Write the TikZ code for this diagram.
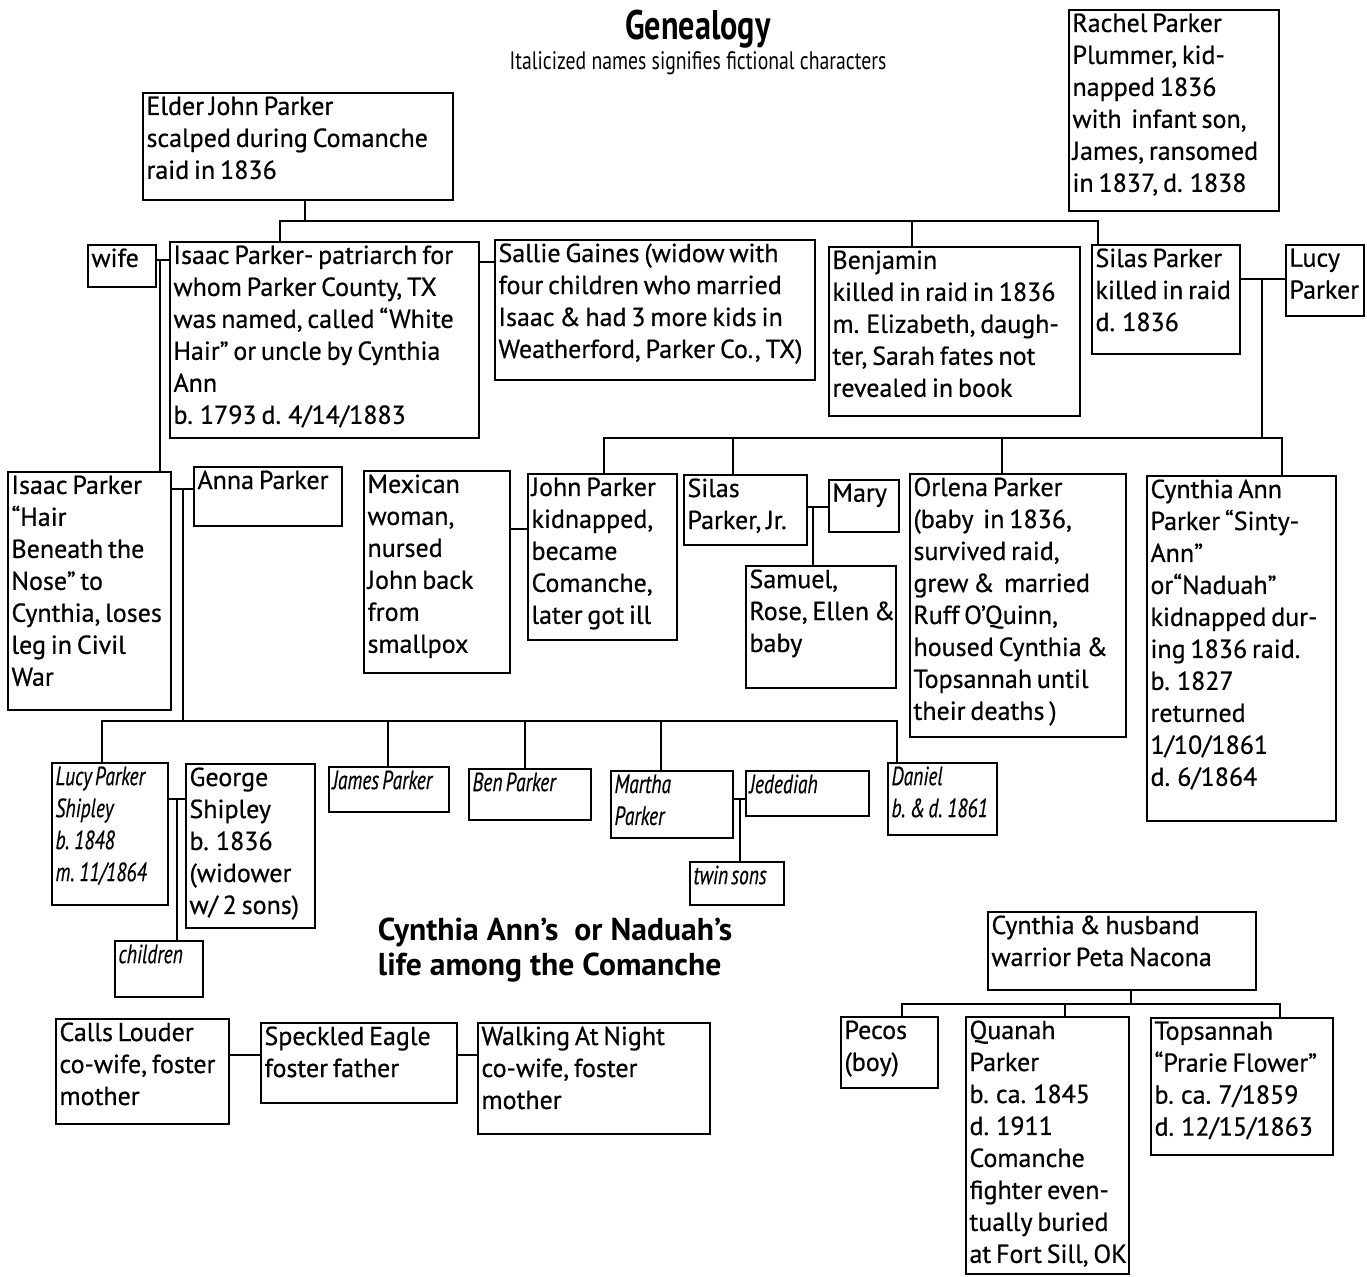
\documentclass[tikz,border=0pt]{standalone}
\usepackage{fontspec}
\setmainfont{PT Sans}
\newfontfamily\bodyfont[FakeBold=0.6, WordSpace=0.7]{PT Sans}
\newfontfamily\condfont[FakeStretch=0.74, FakeBold=0.4, WordSpace=0.6]{PT Sans}
\newfontfamily\headfont[FakeStretch=0.78]{PT Sans}
\usetikzlibrary{fit}
\tikzstyle{box}=[
    draw,
    rectangle,
    inner sep = 0pt,
    line width = 1.1pt
]
\tikzstyle{txt}=[
    anchor = north west,
    align = left,
    inner sep = 2pt,
    font = \bodyfont\fontsize{14.8}{18.2}\selectfont
]
\tikzstyle{itxt}=[
    txt,
    font = \condfont\itshape\fontsize{15}{18.2}\selectfont
]
\begin{document}
\begin{tikzpicture}[x=0.02cm, y=-0.02cm, line width=1.1pt]
        \useasboundingbox (0,0) rectangle (1367,1276);

        \node[font=\headfont\bfseries\fontsize{23.5}{26}\selectfont] (title) at (698,29) {Genealogy};
        \node[font=\headfont\fontsize{14.4}{16}\selectfont] (subtitle) at (698,63) {Italicized names signifies fictional characters};

        \node[box, fit={(143,93) (453,200)}, label={[txt]north west:{Elder John Parker\\scalped during Comanche\\raid in 1836}}] (elder) {};
        \node[box, fit={(1069,10) (1279,211)}, label={[txt]north west:{Rachel Parker\\Plummer, kid-\\napped 1836\\with\ \ infant son,\\James, ransomed\\in 1837, d. 1838}}] (rachel) {};

        \node[box, fit={(88,245) (156,287)}, label={[txt]north west:{wife}}] (wife) {};
        \node[box, fit={(170,242) (479,438)}, label={[txt]north west:{Isaac Parker- patriarch for\\whom Parker County, TX\\was named, called “White\\Hair” or uncle by Cynthia\\Ann\\b. 1793 d. 4/14/1883}}] (isaac) {};
        \node[box, fit={(495,240) (815,380)}, label={[txt]north west:{Sallie Gaines (widow with\\four children who married\\Isaac \& had 3 more kids in\\Weatherford, Parker Co., TX)}}] (sallie) {};
        \node[box, fit={(829,247) (1080,416)}, label={[txt]north west:{Benjamin\\killed in raid in 1836\\m. Elizabeth, daugh-\\ter, Sarah fates not\\revealed in book}}] (benjamin) {};
        \node[box, fit={(1092,245) (1240,354)}, label={[txt]north west:{Silas Parker\\killed in raid\\d. 1836}}] (silas) {};
        \node[box, fit={(1286,245) (1364,316)}, label={[txt]north west:{Lucy\\Parker}}] (lucy) {};

        \node[box, fit={(8,472) (171,710)}, label={[txt]north west:{Isaac Parker\\“Hair\\Beneath the\\Nose” to\\Cynthia, loses\\leg in Civil\\War}}] (isaacjr) {};
        \node[box, fit={(194,467) (342,526)}, label={[txt]north west:{Anna Parker}}] (anna) {};
        \node[box, fit={(364,471) (510,673)}, label={[txt]north west:{Mexican\\woman,\\nursed\\John back\\from\\smallpox}}] (mexican) {};
        \node[box, fit={(528,474) (677,640)}, label={[txt]north west:{John Parker\\kidnapped,\\became\\Comanche,\\later got ill}}] (john) {};
        \node[box, fit={(684,475) (807,545)}, label={[txt]north west:{Silas\\Parker, Jr.}}] (silasjr) {};
        \node[box, fit={(829,480) (899,532)}, label={[txt]north west:{Mary}}] (mary) {};
        \node[box, fit={(746,566) (896,688)}, label={[txt]north west:{Samuel,\\Rose, Ellen \&\\baby}}] (samuel) {};
        \node[box, fit={(910,474) (1126,737)}, label={[txt]north west:{Orlena Parker\\(baby\ \ in 1836,\\survived raid,\\grew \&\ \ married\\Ruff O’Quinn,\\housed Cynthia \&\\Topsannah until\\their deaths )}}] (orlena) {};
        \node[box, fit={(1147,476) (1336,821)}, label={[txt]north west:{Cynthia Ann\\Parker “Sinty-\\Ann”\\or“Naduah”\\kidnapped dur-\\ing 1836 raid.\\b. 1827\\returned\\1/10/1861\\d. 6/1864}}] (cynthia) {};

        \node[box, fit={(52,763) (168,905)}, label={[itxt]north west:{Lucy Parker\\Shipley\\b. 1848\\m. 11/1864}}] (lucys) {};
        \node[box, fit={(186,764) (315,928)}, label={[txt]north west:{George\\Shipley\\b. 1836\\(widower\\w/ 2 sons)}}] (george) {};
        \node[box, fit={(115,941) (203,997)}, label={[itxt]north west:{children}}] (children) {};
        \node[box, fit={(329,767) (449,812)}, label={[itxt]north west:{James Parker}}] (james) {};
        \node[box, fit={(469,769) (591,820)}, label={[itxt]north west:{Ben Parker}}] (ben) {};
        \node[box, fit={(611,771) (733,838)}, label={[itxt]north west:{Martha\\Parker}}] (martha) {};
        \node[box, fit={(746,771) (869,816)}, label={[itxt]north west:{Jedediah}}] (jed) {};
        \node[box, fit={(690,862) (784,905)}, label={[itxt]north west:{twin sons}}] (twins) {};
        \node[box, fit={(888,763) (997,835)}, label={[itxt]north west:{Daniel\\b. \& d. 1861}}] (daniel) {};

        \node[anchor=north west, align=left, inner sep=0pt, font=\bfseries\fontsize{18}{20}\selectfont] (heading) at (377,917) {Cynthia Ann’s\ \ or Naduah’s\\life among the Comanche};

        \node[box, fit={(988,912) (1256,990)}, label={[txt]north west:{Cynthia \& husband\\warrior Peta Nacona}}] (husband) {};
        \node[box, fit={(841,1017) (938,1088)}, label={[txt]north west:{Pecos\\(boy)}}] (pecos) {};
        \node[box, fit={(966,1017) (1129,1274)}, label={[txt]north west:{Quanah\\Parker\\b. ca. 1845\\d. 1911\\Comanche\\fighter even-\\tually buried\\at Fort Sill, OK}}] (quanah) {};
        \node[box, fit={(1151,1018) (1333,1155)}, label={[txt]north west:{Topsannah\\“Prarie Flower”\\b. ca. 7/1859\\d. 12/15/1863}}] (tops) {};

        \node[box, fit={(56,1019) (229,1124)}, label={[txt]north west:{Calls Louder\\co-wife, foster\\mother}}] (calls) {};
        \node[box, fit={(261,1023) (457,1103)}, label={[txt]north west:{Speckled Eagle\\foster father}}] (speckled) {};
        \node[box, fit={(478,1023) (710,1134)}, label={[txt]north west:{Walking At Night\\co-wife, foster\\mother}}] (walking) {};

        \coordinate (b1) at (280,221);
        \coordinate (b2) at (305,221);
        \coordinate (b3) at (912,221);
        \coordinate (b4) at (1098,221);
        \draw[-] (elder.south -| b2) -- (b2);
        \draw[-] (isaac.north -| b1) -- (b1) -- (b4) -- (silas.north -| b4);
        \draw[-] (b3) -- (benjamin.north -| b3);

        \coordinate (w1) at (160,260);
        \draw[-] (wife.east |- w1) -- (isaac.west |- w1);
        \draw[-] (w1) -- (isaacjr.north -| w1);
        \coordinate (s1) at (487,262);
        \draw[-] (isaac.east |- s1) -- (sallie.west |- s1);

        \coordinate (l1) at (1262,279);
        \coordinate (c1) at (1262,438);
        \draw[-] (silas.east |- l1) -- (lucy.west |- l1);
        \draw[-] (l1) -- (c1);
        \coordinate (c0) at (604,438);
        \coordinate (c2) at (733,438);
        \coordinate (c3) at (1002,438);
        \coordinate (c4) at (1282,438);
        \draw[-] (john.north -| c0) -- (c0) -- (c4) -- (cynthia.north -| c4);
        \draw[-] (c2) -- (silasjr.north -| c2);
        \draw[-] (c3) -- (orlena.north -| c3);

        \coordinate (mj) at (519,529);
        \draw[-] (mexican.east |- mj) -- (john.west |- mj);
        \coordinate (sm) at (813,507);
        \draw[-] (silasjr.east |- sm) -- (mary.west |- sm);
        \draw[-] (sm) -- (samuel.north -| sm);

        \coordinate (ia) at (183,489);
        \draw[-] (isaacjr.east |- ia) -- (anna.west |- ia);
        \coordinate (g0) at (102,721);
        \coordinate (g1) at (183,721);
        \coordinate (g2) at (388,721);
        \coordinate (g3) at (525,721);
        \coordinate (g4) at (661,721);
        \coordinate (g5) at (897,721);
        \draw[-] (ia) -- (g1);
        \draw[-] (lucys.north -| g0) -- (g0) -- (g5) -- (daniel.north -| g5);
        \draw[-] (g2) -- (james.north -| g2);
        \draw[-] (g3) -- (ben.north -| g3);
        \draw[-] (g4) -- (martha.north -| g4);

        \coordinate (lg) at (177,799);
        \draw[-] (lucys.east |- lg) -- (george.west |- lg);
        \draw[-] (lg) -- (children.north -| lg);
        \coordinate (mt) at (740,799);
        \draw[-] (martha.east |- mt) -- (jed.west |- mt);
        \draw[-] (mt) -- (twins.north -| mt);

        \coordinate (p0) at (902,1004);
        \coordinate (p1) at (1131,1004);
        \coordinate (p2) at (1065,1004);
        \coordinate (p3) at (1280,1004);
        \draw[-] (husband.south -| p1) -- (p1);
        \draw[-] (pecos.north -| p0) -- (p0) -- (p3) -- (tops.north -| p3);
        \draw[-] (p2) -- (quanah.north -| p2);

        \coordinate (f1) at (245,1055);
        \coordinate (f2) at (467,1055);
        \draw[-] (calls.east |- f1) -- (speckled.west |- f1);
        \draw[-] (speckled.east |- f2) -- (walking.west |- f2);

    \end{tikzpicture}
\end{document}
